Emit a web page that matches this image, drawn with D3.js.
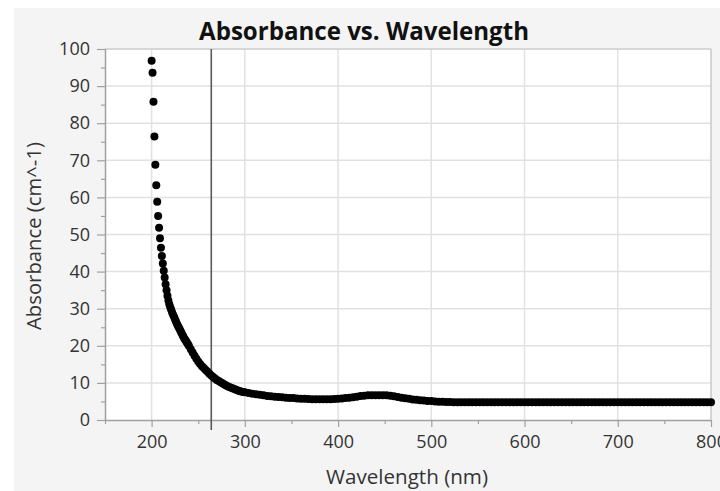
<!DOCTYPE html>
<html lang="en">
<head>
    <meta charset="UTF-8">
    <title>Absorbance vs. Wavelength</title>
    <script src="https://d3js.org/d3.v7.min.js"></script>
    <style>
        body {
            margin: 0;
            background: #fff;
            font-family: "Open Sans", "Noto Sans", sans-serif;
        }
        .tick text {
            fill: #333;
        }
    </style>
</head>
<body>
    <svg></svg>

    <script>
        // 1 nm steps through the steep UV edge
        const wlSteep = d3.range(200, 241, 1);
        const absSteep = [96.8, 93.6, 85.8, 76.4, 68.8, 63.3, 58.8, 55.0, 51.8, 49.0,
            46.4, 44.2, 42.2, 40.2, 38.4, 36.6, 35.0, 33.5, 32.2, 31.2,
            30.4, 29.7, 29.0, 28.4, 27.8, 27.2, 26.6, 26.0, 25.5, 25.0,
            24.5, 24.0, 23.5, 23.0, 22.5, 22.0, 21.6, 21.2, 20.8, 20.4, 20.0];

        // 2 nm steps through the knee
        const wlKnee = d3.range(242, 300, 2);
        const absKnee = [19.1, 18.2, 17.3, 16.5, 15.8, 15.1, 14.5, 14.0, 13.5, 13.0,
            12.5, 12.0, 11.6, 11.2, 10.8, 10.5, 10.2, 9.9, 9.6, 9.3,
            9.0, 8.8, 8.6, 8.4, 8.2, 8.0, 7.85, 7.7, 7.55];

        // 4 nm steps for the flat tail
        const wlTail = d3.range(300, 801, 4);
        const absTail = [7.45, 7.25, 7.1, 6.95, 6.8, 6.65, 6.5, 6.4, 6.3, 6.2,
            6.1, 6.0, 5.95, 5.9, 5.8, 5.75, 5.7, 5.65, 5.6, 5.6,
            5.6, 5.6, 5.6, 5.6, 5.65, 5.7, 5.8, 5.9, 6.0, 6.15,
            6.3, 6.45, 6.55, 6.65, 6.7, 6.7, 6.7, 6.7, 6.65, 6.55,
            6.4, 6.2, 6.0, 5.85, 5.7, 5.55, 5.45, 5.35, 5.25, 5.15,
            5.1, 5.0, 4.95, 4.9, 4.85, 4.85, 4.8, 4.8,
            4.8, 4.8, 4.8, 4.8, 4.8, 4.8, 4.8, 4.8, 4.8, 4.8, 4.8, 4.8, 4.8, 4.8, 4.8, 4.8, 4.8,
            4.8, 4.8, 4.8, 4.8, 4.8, 4.8, 4.8, 4.8, 4.8, 4.8, 4.8, 4.8, 4.8, 4.8, 4.8, 4.8, 4.8,
            4.8, 4.8, 4.8, 4.8, 4.8, 4.8, 4.8, 4.8, 4.8, 4.8, 4.8, 4.8, 4.8, 4.8, 4.8, 4.8, 4.8,
            4.8, 4.8, 4.8, 4.8, 4.8, 4.8, 4.8, 4.8, 4.8, 4.8, 4.8, 4.8, 4.8, 4.8, 4.8, 4.8, 4.8];

        const xTicks = [200, 300, 400, 500, 600, 700, 800];
        const xMinor = [150, 250, 350, 450, 550, 650, 750];
        const yTicks = [0, 10, 20, 30, 40, 50, 60, 70, 80, 90, 100];
        const yMinor = [5, 15, 25, 35, 45, 55, 65, 75, 85, 95];
        const markerWl = 264;

        const title = "Absorbance vs. Wavelength";
        const xTitle = "Wavelength (nm)";
        const yTitle = "Absorbance (cm^-1)";

        const wavelengths = [...wlSteep, ...wlKnee, ...wlTail];
        const absorbance = [...absSteep, ...absKnee, ...absTail];
        const points = wavelengths.map((w, i) => ({ w: w, a: absorbance[i] }));

        const width = 720, height = 491;
        const plotL = 105, plotR = 711, plotT = 49, plotB = 420;

        const svg = d3.select("svg")
            .attr("width", width)
            .attr("height", height)
            .style("display", "block");

        // grey panel behind everything
        svg.append("rect")
            .attr("x", 14).attr("y", 8)
            .attr("width", width - 14).attr("height", height - 8)
            .attr("fill", "#f4f4f4");

        svg.append("rect")
            .attr("x", plotL).attr("y", plotT)
            .attr("width", plotR - plotL).attr("height", plotB - plotT)
            .attr("fill", "#fff");

        const x = d3.scaleLinear().domain([150, 800]).range([plotL, plotR]);
        const y = d3.scaleLinear().domain([0, 100]).range([plotB, plotT]);

        // grid
        svg.append("g")
            .selectAll("line")
            .data(xTicks)
            .join("line")
            .attr("x1", d => x(d)).attr("x2", d => x(d))
            .attr("y1", plotT).attr("y2", plotB)
            .attr("stroke", "#e1e1e1")
            .attr("stroke-width", 1.5);

        svg.append("g")
            .selectAll("line")
            .data(yTicks.slice(1))
            .join("line")
            .attr("x1", plotL).attr("x2", plotR)
            .attr("y1", d => y(d)).attr("y2", d => y(d))
            .attr("stroke", "#e1e1e1")
            .attr("stroke-width", 1.5);

        // frame top and right
        svg.append("path")
            .attr("d", `M${plotL},${plotT}H${plotR}V${plotB}`)
            .attr("fill", "none")
            .attr("stroke", "#c8c8c8")
            .attr("stroke-width", 1.2);

        // axes
        const fontSize = 18;

        const xAxis = svg.append("g")
            .attr("transform", `translate(0,${plotB})`)
            .call(d3.axisBottom(x).tickValues(xTicks).tickSize(7).tickPadding(8));
        svg.append("g")
            .attr("transform", `translate(0,${plotB})`)
            .call(d3.axisBottom(x).tickValues(xMinor).tickSize(4).tickFormat(""))
            .select(".domain").remove();

        const yAxis = svg.append("g")
            .attr("transform", `translate(${plotL},0)`)
            .call(d3.axisLeft(y).tickValues(yTicks).tickSize(8).tickPadding(7));
        svg.append("g")
            .attr("transform", `translate(${plotL},0)`)
            .call(d3.axisLeft(y).tickValues(yMinor).tickSize(4).tickFormat(""))
            .select(".domain").remove();

        svg.selectAll(".domain").attr("stroke", "#a0a0a0").attr("stroke-width", 1.5);
        svg.selectAll(".tick line").attr("stroke", "#a0a0a0").attr("stroke-width", 1.2);
        svg.selectAll(".tick text")
            .style("font-family", "'Open Sans', 'Noto Sans', sans-serif")
            .style("font-size", fontSize + "px");
        xAxis.selectAll(".domain").attr("d", `M${plotL},0.5H${plotR}`);
        yAxis.selectAll(".domain").attr("d", `M0.5,${plotB}V${plotT}`);

        // vertical marker
        svg.append("line")
            .attr("x1", x(markerWl)).attr("x2", x(markerWl))
            .attr("y1", plotT).attr("y2", plotB + 10)
            .attr("stroke", "#5a5a5a")
            .attr("stroke-width", 1.6);

        // data
        svg.append("g")
            .selectAll("circle")
            .data(points)
            .join("circle")
            .attr("cx", d => x(d.w))
            .attr("cy", d => y(d.a))
            .attr("r", 4)
            .attr("fill", "#000");

        // texts, sized to the widths in the picture
        function fit(sel, targetWidth) {
            const w = sel.node().getComputedTextLength();
            const fs = parseFloat(sel.style("font-size"));
            sel.style("font-size", (fs * targetWidth / w) + "px");
        }

        const t = svg.append("text")
            .attr("x", 364).attr("y", 40)
            .attr("text-anchor", "middle")
            .style("font-family", "'Open Sans', 'Noto Sans', sans-serif")
            .style("font-weight", "bold")
            .style("font-size", "20px")
            .attr("fill", "#111")
            .text(title);
        fit(t, 330);

        const xt = svg.append("text")
            .attr("x", 407).attr("y", 484)
            .attr("text-anchor", "middle")
            .style("font-family", "'Open Sans', 'Noto Sans', sans-serif")
            .style("font-size", "17px")
            .attr("fill", "#333")
            .text(xTitle);
        fit(xt, 162);

        const yt = svg.append("text")
            .attr("transform", "translate(41,236) rotate(-90)")
            .attr("text-anchor", "middle")
            .style("font-family", "'Open Sans', 'Noto Sans', sans-serif")
            .style("font-size", "17px")
            .attr("fill", "#333")
            .text(yTitle);
        fit(yt, 188);
    </script>
</body>
</html>
